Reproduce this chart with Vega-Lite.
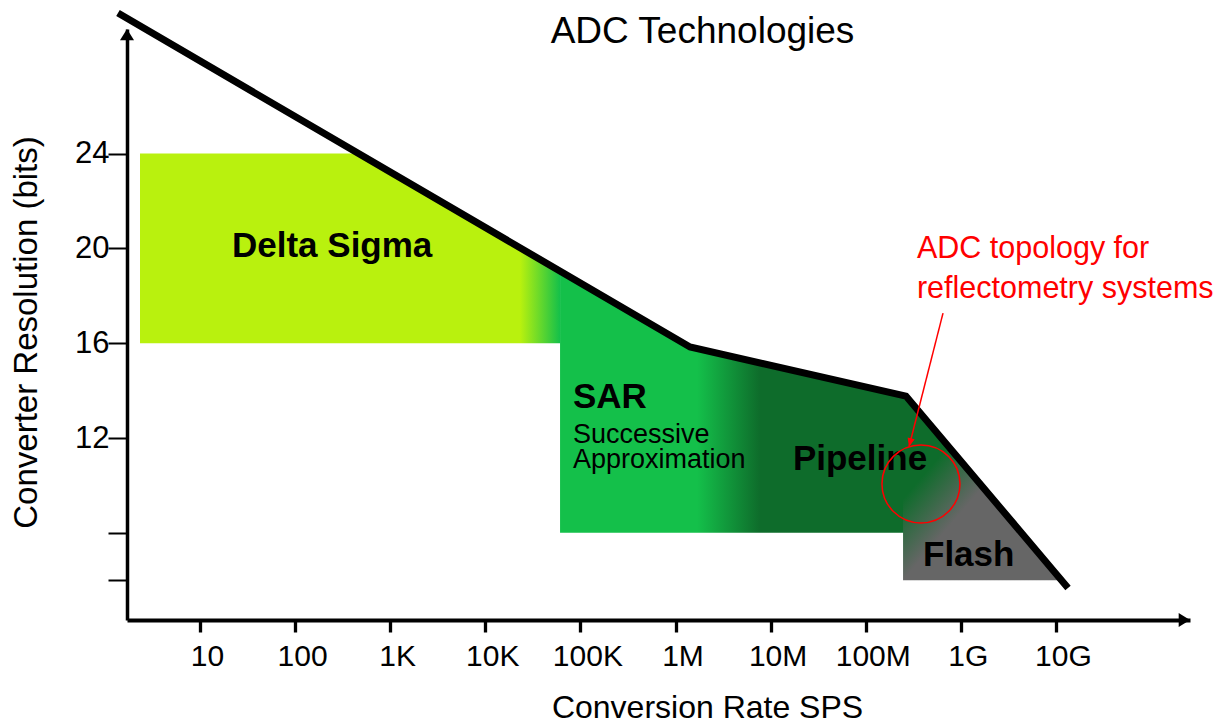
{
  "$schema": "https://vega.github.io/schema/vega-lite/v6.json",
  "width": 1063,
  "height": 591,
  "autosize": {"type": "none"},
  "padding": {"left": 127, "top": 29, "right": 25, "bottom": 105},
  "background": "white",
  "config": {"view": {"stroke": null}, "font": "Liberation Sans"},
  "title": {"text": "ADC Technologies", "fontSize": 37, "font": "Liberation Sans", "fontWeight": "normal", "color": "black", "anchor": "middle", "frame": "group", "baseline": "alphabetic", "dx": 44, "dy": 36, "offset": -45},
  "datasets": {
    "ds": [{"x": 2.34, "y": 24, "y2": 16}, {"x": 466.6, "y": 24, "y2": 16}, {"x": 61100, "y": 19.04, "y2": 16}],
    "sar": [{"x": 61100, "y": 19.04, "y2": 8}, {"x": 1420000, "y": 15.84, "y2": 8}, {"x": 265000000, "y": 13.77, "y2": 8}],
    "flash": [{"x": 247000000, "y": 13.8, "y2": 6}, {"x": 265000000, "y": 13.77, "y2": 6}, {"x": 11430000000, "y": 6, "y2": 6}],
    "boundary": [{"x": 1.373, "y": 29.93}, {"x": 1420000, "y": 15.84}, {"x": 265000000, "y": 13.77}, {"x": 13400000000, "y": 5.67}],
    "bold": [{"x": 21.7, "y": 19.64, "label": "Delta Sigma"}, {"x": 83400, "y": 13.27, "label": "SAR"}, {"x": 17160000, "y": 10.65, "label": "Pipeline"}, {"x": 400500000, "y": 6.6, "label": "Flash"}],
    "sub": [{"x": 83400, "y": 11.79, "label": "Successive"}, {"x": 83400, "y": 10.73, "label": "Approximation"}],
    "note": [{"x": 345900000, "y": 19.6, "label": "ADC topology for"}, {"x": 345900000, "y": 17.91, "label": "reflectometry systems"}],
    "circle": [{"x": 381000000, "y": 10.06}],
    "arrow": [{"x": 650000000, "y": 17.27, "x2": 285000000, "y2": 11.62}],
    "yhead": [{"x": 1.708, "y": 29.257}],
    "xhead": [{"x": 257000000000, "y": 4.321}]
  },
  "encoding": {
    "x": {
      "field": "x", "type": "quantitative",
      "scale": {"type": "log", "domain": [1.708, 257000000000], "nice": false},
      "axis": {
        "values": [10, 100, 1000, 10000, 100000, 1000000, 10000000, 100000000, 1000000000, 10000000000],
        "labelExpr": "datum.value >= 1e9 ? round(datum.value/1e9) + 'G' : datum.value >= 1e6 ? round(datum.value/1e6) + 'M' : datum.value >= 1e3 ? round(datum.value/1e3) + 'K' : round(datum.value) + ''",
        "grid": false, "domainColor": "black", "domainWidth": 4, "tickColor": "black", "tickWidth": 3.3, "tickSize": 12,
        "labelFontSize": 30, "labelColor": "black", "labelFont": "Liberation Sans", "labelPadding": 9, "labelOffset": 7, "labelFlush": false, "labelOverlap": false,
        "title": "Conversion Rate SPS", "titleFontSize": 32, "titleFontWeight": "normal", "titleColor": "black", "titleFont": "Liberation Sans",
        "titleX": 580, "titleY": 97, "titleAlign": "center", "titleBaseline": "alphabetic"
      }
    },
    "y": {
      "field": "y", "type": "quantitative",
      "scale": {"domain": [4.321, 29.257], "nice": false, "zero": false},
      "axis": {
        "values": [6, 8, 12, 16, 20, 24],
        "labelExpr": "datum.value >= 12 ? datum.label : ''",
        "grid": false, "domainColor": "black", "domainWidth": 3.5, "tickColor": "black", "tickWidth": 2, "tickSize": 19,
        "labelFontSize": 31, "labelColor": "black", "labelFont": "Liberation Sans", "labelPadding": -1, "labelOverlap": false,
        "title": "Converter Resolution (bits)", "titleFontSize": 33, "titleFontWeight": "normal", "titleColor": "black", "titleFont": "Liberation Sans",
        "titleX": -91, "titleY": 303, "titleAlign": "center", "titleBaseline": "alphabetic", "titleAngle": -90
      }
    }
  },
  "layer": [
    {
      "data": {"name": "ds"},
      "mark": {"type": "area", "fill": {"gradient": "linear", "x1": 0, "y1": 0, "x2": 1, "y2": 0, "stops": [{"offset": 0, "color": "#b9f10e"}, {"offset": 0.905, "color": "#b9f10e"}, {"offset": 1, "color": "#14c04a"}]}},
      "encoding": {"y2": {"field": "y2"}}
    },
    {
      "data": {"name": "sar"},
      "mark": {"type": "area", "fill": {"gradient": "linear", "x1": 0, "y1": 0, "x2": 1, "y2": 0, "stops": [{"offset": 0, "color": "#14c04a"}, {"offset": 0.396, "color": "#14c04a"}, {"offset": 0.578, "color": "#0e6c2b"}, {"offset": 1, "color": "#0e6c2b"}]}},
      "encoding": {"y2": {"field": "y2"}}
    },
    {
      "data": {"name": "flash"},
      "mark": {"type": "area", "fill": {"gradient": "linear", "x1": 0, "y1": 0, "x2": 1, "y2": 1, "stops": [{"offset": 0, "color": "#0e6c2b"}, {"offset": 0.28, "color": "#0e6c2b"}, {"offset": 0.5, "color": "#666666"}, {"offset": 1, "color": "#666666"}]}},
      "encoding": {"y2": {"field": "y2"}}
    },
    {
      "data": {"name": "boundary"},
      "mark": {"type": "line", "color": "black", "strokeWidth": 7, "strokeCap": "butt", "strokeJoin": "miter"}
    },
    {
      "data": {"name": "bold"},
      "mark": {"type": "text", "fontSize": 35, "fontWeight": "bold", "color": "black", "align": "left", "baseline": "alphabetic", "font": "Liberation Sans"},
      "encoding": {"text": {"field": "label"}}
    },
    {
      "data": {"name": "sub"},
      "mark": {"type": "text", "fontSize": 27, "color": "black", "align": "left", "baseline": "alphabetic", "font": "Liberation Sans"},
      "encoding": {"text": {"field": "label"}}
    },
    {
      "data": {"name": "note"},
      "mark": {"type": "text", "fontSize": 30.5, "color": "#ff0000", "align": "left", "baseline": "alphabetic", "font": "Liberation Sans"},
      "encoding": {"text": {"field": "label"}}
    },
    {
      "data": {"name": "circle"},
      "mark": {"type": "point", "shape": "circle", "size": 6084, "filled": false, "stroke": "#ff0000", "strokeWidth": 1.5, "opacity": 1}
    },
    {
      "data": {"name": "arrow"},
      "mark": {"type": "rule", "color": "#ff0000", "strokeWidth": 1.5},
      "encoding": {"x2": {"field": "x2"}, "y2": {"field": "y2"}}
    },
    {
      "data": {"name": "arrow"},
      "mark": {"type": "point", "shape": "M0,0L-0.4,-1L0.4,-1Z", "size": 324, "filled": true, "color": "#ff0000", "angle": 14, "opacity": 1},
      "encoding": {"x": {"field": "x2", "type": "quantitative"}, "y": {"field": "y2", "type": "quantitative"}}
    },
    {
      "data": {"name": "yhead"},
      "mark": {"type": "point", "shape": "M0,0L-0.5,0.81L0.5,0.81Z", "size": 784, "filled": true, "color": "black", "opacity": 1}
    },
    {
      "data": {"name": "xhead"},
      "mark": {"type": "point", "shape": "M0,0L-0.81,-0.5L-0.81,0.5Z", "size": 784, "filled": true, "color": "black", "opacity": 1}
    }
  ]
}
